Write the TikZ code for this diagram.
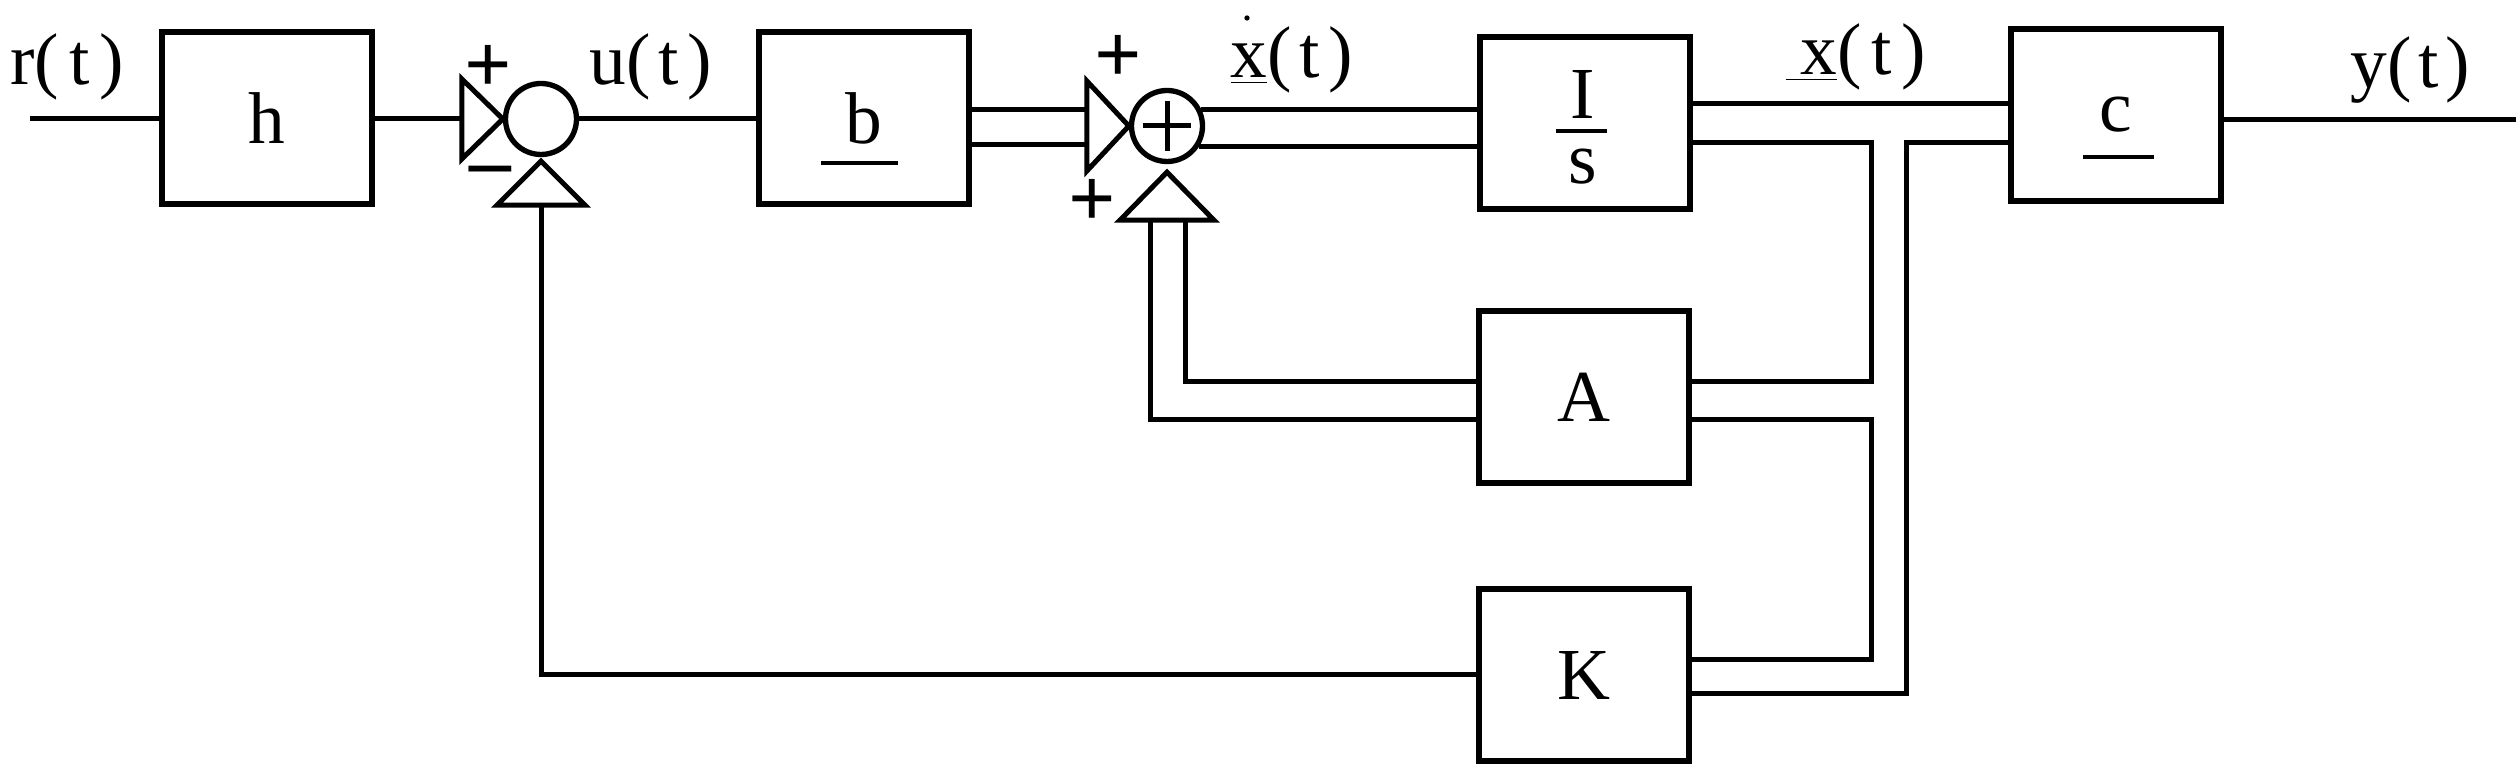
\documentclass[tikz,border=0pt]{standalone}
\usepackage{fontspec}
\setmainfont{Liberation Serif}
\usetikzlibrary{calc}
\begin{document}
\begin{tikzpicture}[x=0.3pt,y=-0.3pt,line width=1.5pt,line join=miter,
  txt/.style={font=\fontsize{22}{26}\selectfont,inner sep=0pt},
  blk/.style={draw,line width=1.9pt,rectangle,minimum width=63pt,minimum height=51.6pt,inner sep=0pt,txt},
  sumc/.style={draw,line width=1.6pt,circle,minimum size=21.3pt,inner sep=0pt},
  lbl/.style={txt,anchor=base west},
  sgn/.style={font=\fontsize{25}{28}\selectfont\bfseries,inner sep=0pt},
  bar/.style={line width=1pt}]
\useasboundingbox (0,0) rectangle (2516,767);
% blocks
\node[blk] (h) at (267,118) {h};
\node[blk] (b) at (864,118) {b};
\node[blk] (Is) at (1585,123) {};
\node[blk] (A) at (1584,397) {A};
\node[blk] (K) at (1584,675) {K};
\node[blk] (c) at (2116,115) {c};
% vector bars and fraction
\draw[bar] ($(b.center)+(-43,45)$) -- ++(77,0);
\draw[bar] ($(c.center)+(-33,42)$) -- ++(71,0);
\node[txt,anchor=base] (Ifrac) at ($(Is.center)+(-2,61)$)
  {\def\arraystretch{0.75}\begin{tabular}[b]{@{}c@{}}I\\s\end{tabular}};
\draw[bar] ($(Is.center)+(-29,8)$) -- ++(51,0);
% summing junctions
\node[sumc] (s1) at (541,119) {};
\node[sumc] (s2) at (1167,126) {};
\draw ($(s2.center)+(-24,0)$) -- ($(s2.center)+(24,0)$);
\draw ($(s2.center)+(0,-25)$) -- ($(s2.center)+(0,25)$);
% input triangles of s1
\draw ($(s1.west)+(-41,-40)$) -- (s1.west) -- ($(s1.west)+(-41,40)$) -- cycle;
\coordinate (t1in) at ($(s1.west)+(-41,0)$);
\coordinate (t1tip) at ($(s1.south)+(0,4)$);
\draw (t1tip) -- ++(-44,44) -- ++(88,0) -- cycle;
\coordinate (t1b) at ($(t1tip)+(0,44)$);
% input triangles of s2
\draw ($(s2.west)+(-42,-45)$) -- (s2.west) -- ($(s2.west)+(-42,45)$) -- cycle;
\coordinate (d1) at ($(s2.west)+(-42,-16)$);
\coordinate (d2) at ($(s2.west)+(-42,19)$);
\coordinate (t2tip) at ($(s2.south)+(0,8)$);
\draw (t2tip) -- ++(-47,48) -- ++(94,0) -- cycle;
\coordinate (t2b) at ($(t2tip)+(0,48)$);
% forward path
\coordinate (rin) at (30,119);
\draw (rin) -- (rin -| h.west);
\draw (t1in -| h.east) -- (t1in);
\draw (s1.east) -- (s1.east -| b.west);
\draw (d1 -| b.east) -- (d1);
\draw (d2 -| b.east) -- (d2);
\draw (s2.26) -- (s2.26 -| Is.west);
\draw (s2.-32) -- (s2.-32 -| Is.west);
% A feedback into s2
\coordinate (v1) at ($(t2b)+(-17,0)$);
\coordinate (v2) at ($(t2b)+(18,0)$);
\coordinate (a1) at ($(A.west)+(0,-15)$);
\coordinate (a2) at ($(A.west)+(0,23)$);
\draw (v2) |- (a1);
\draw (v1) |- (a2);
% right side
\coordinate (i1) at ($(Is.east)+(0,-19)$);
\coordinate (i2) at ($(Is.east)+(0,20)$);
\coordinate (ae1) at ($(A.east)+(0,-15)$);
\coordinate (ae2) at ($(A.east)+(0,23)$);
\coordinate (ke1) at ($(K.east)+(0,-15)$);
\coordinate (ke2) at ($(K.east)+(0,19)$);
\coordinate (vx1) at (1871,0);
\coordinate (vx2) at (1906,0);
\draw (i1) -- (i1 -| c.west);
\draw (i2) -- (i2 -| vx1) -- (ae1 -| vx1) -- (ae1);
\draw (ae2) -- (ae2 -| vx1) -- (ke1 -| vx1) -- (ke1);
\draw (i2 -| c.west) -- (i2 -| vx2) -- (ke2 -| vx2) -- (ke2);
\coordinate (cy) at ($(c.east)+(0,5)$);
\coordinate (yout) at (2516,0);
\draw (cy) -- (cy -| yout);
% K feedback into s1
\draw (K.west) -| (t1b);
% labels
\node[lbl] (lr) at (8,85) {r(\hspace{3pt}t\hspace{3pt})};
\node[lbl] (lu) at (587,85) {u(\hspace{2.5pt}t\hspace{2.5pt})};
\node[lbl] (lxd) at (1228,78) {\underline{x}(\hspace{2.5pt}t\hspace{2.5pt})};
\fill ($(lxd.base west)+(19,-60)$) circle (0.8pt);
\node[lbl] (lx) at (1783,75) {\underline{\hspace{4.5pt}x}(\hspace{3pt}t\hspace{3pt})};
\node[lbl] (ly) at (2348,88) {y(\hspace{2pt}t\hspace{2pt})};
% signs
\node[sgn] (p1) at (488,69) {+};
\node[sgn] (m1) at (490,177) {–};
\node[sgn] (p2) at (1118,59) {+};
\node[sgn] (p3) at (1092,203) {+};
\end{tikzpicture}
\end{document}
